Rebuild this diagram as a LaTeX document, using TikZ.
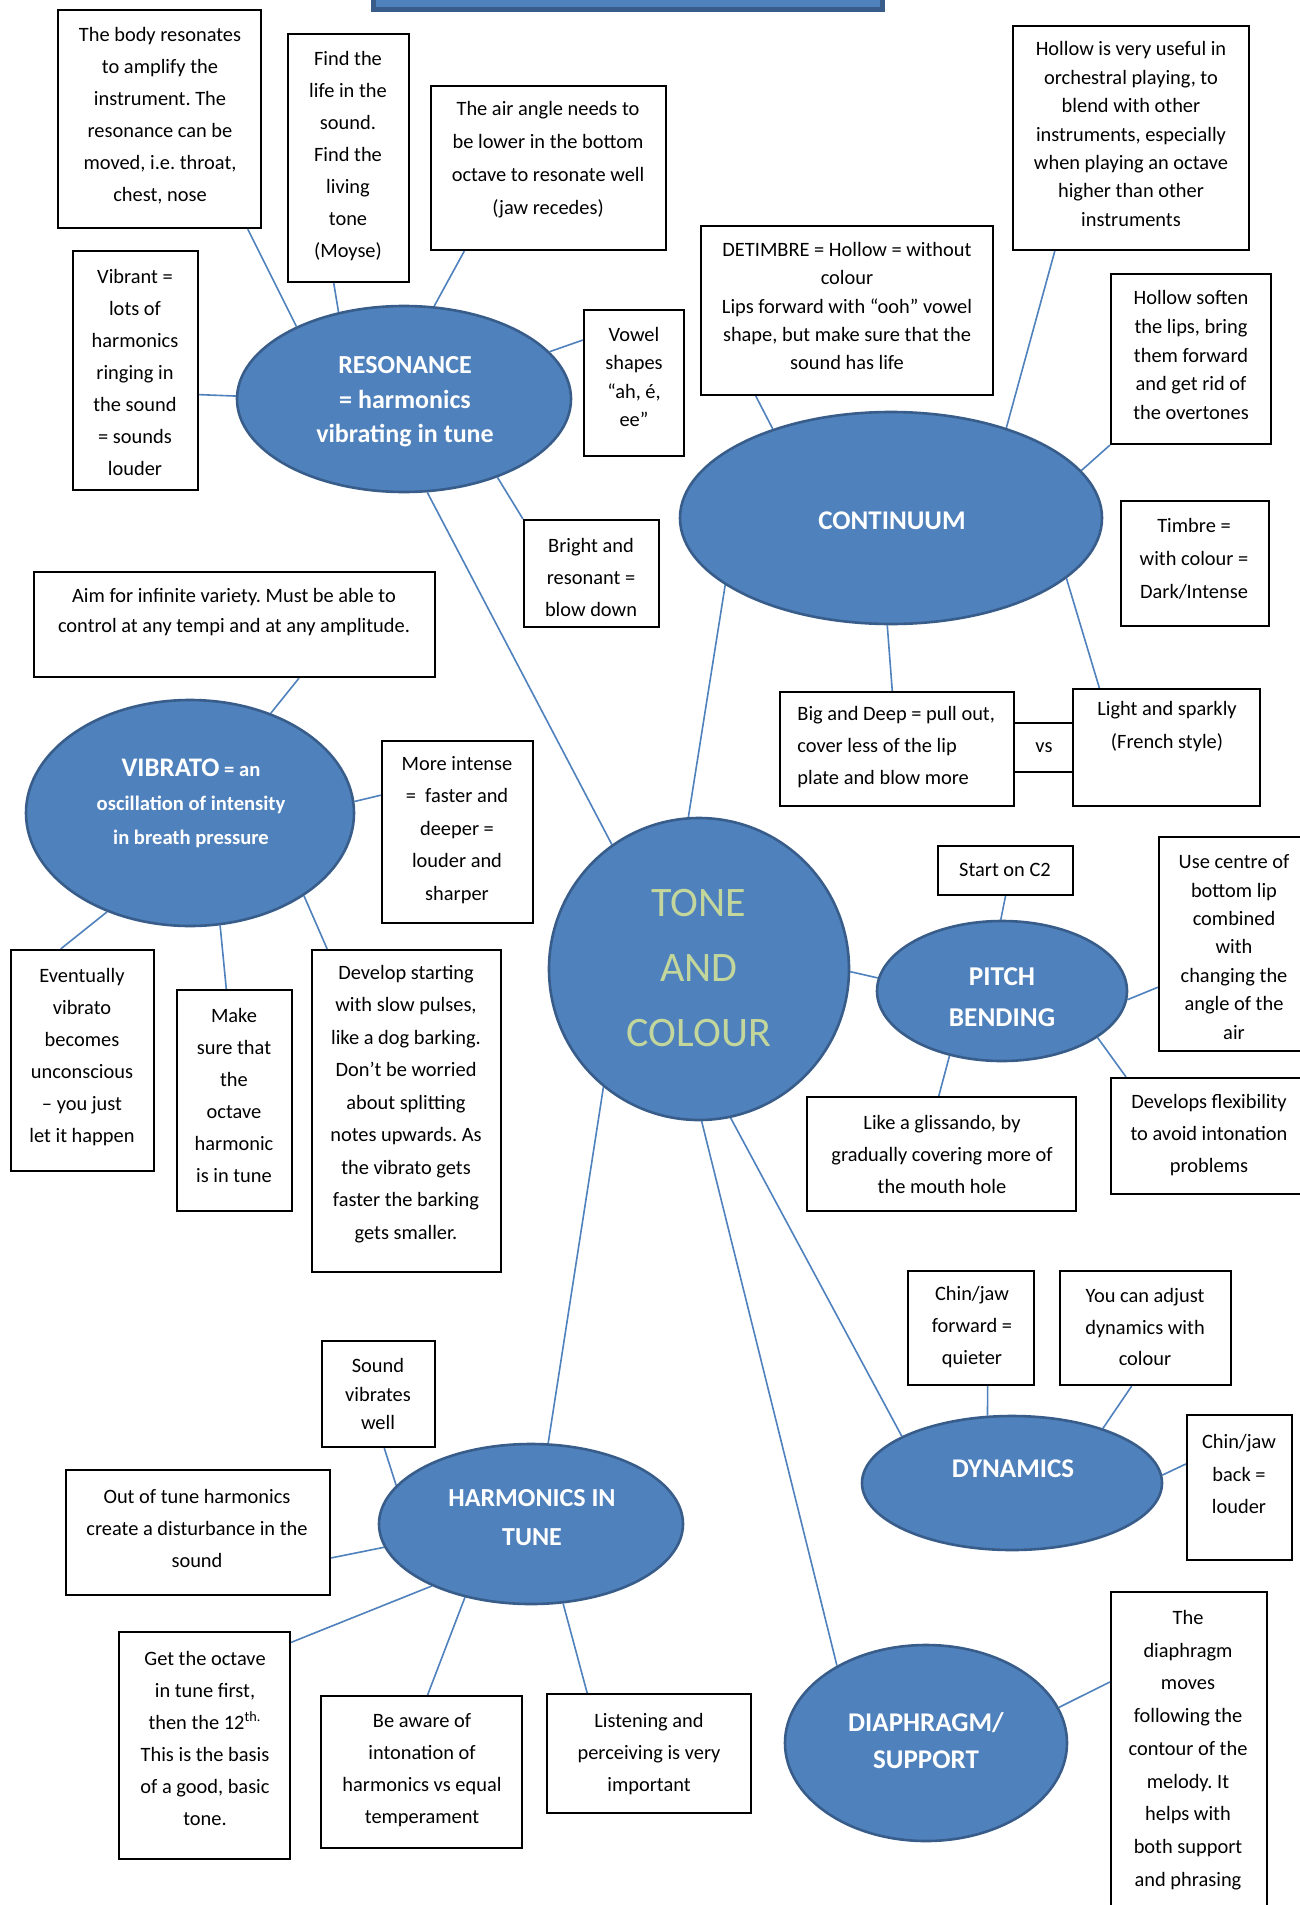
\documentclass[tikz,border=0pt]{standalone}
\usepackage{fontspec}
\setmainfont{Carlito}
\usetikzlibrary{fit,calc,shapes.geometric}
\definecolor{nodeblue}{HTML}{4F81BD}
\definecolor{nodeedge}{HTML}{385D8A}
\definecolor{linkblue}{HTML}{4F81BD}
\definecolor{tonegreen}{HTML}{C3D69B}
\pgfdeclarelayer{bg}
\pgfsetlayers{bg,main}
\frenchspacing

\begin{document}
\begin{tikzpicture}[x=0.5pt,y=-0.5pt,
  box/.style={draw=black, line width=1.1pt, fill=white, inner sep=0pt},
  txt/.style={align=center, inner sep=0pt, text=black, font=\fontsize{10.2}{16}\selectfont},
  tight/.style={font=\fontsize{10.2}{14.2}\selectfont},
  bubble/.style={ellipse, fill=nodeblue, draw=nodeedge, line width=1.3pt, inner sep=0pt},
  htxt/.style={align=center, inner sep=0pt, text=white, font=\bfseries\fontsize{13.5}{17.3}\selectfont},
  link/.style={draw=linkblue, line width=0.8pt},
  titlebar/.style={fill=nodeblue, draw=nodeedge, line width=2.5pt, inner sep=0pt},
]
\useasboundingbox (0,0) rectangle (1300,1905);

% title bar running off the top edge
\node[titlebar, fit={(373,-30) (882,10)}] (title) {};

% ---------- central topic ----------
\node[bubble, minimum width=150pt, minimum height=151pt] (tone) at (699,969) {};
\node[align=center, inner sep=0pt, text=tonegreen, font=\fontsize{21}{32.5}\selectfont] (tonet) at (699,968) {TONE\\AND\\COLOUR};

% ---------- sub topics ----------
\node[bubble, minimum width=167pt, minimum height=93pt] (res) at (404,399) {};
\node[htxt, font=\bfseries\fontsize{13}{17.3}\selectfont] (rest) at (405,402) {RESONANCE\\= harmonics\\vibrating in tune};

\node[bubble, minimum width=211pt, minimum height=106pt] (cont) at (891,518) {};
\node[htxt] (contt) at (892,521) {CONTINUUM};

\node[bubble, minimum width=164pt, minimum height=113pt] (vib) at (190,813) {};
\node[htxt, font=\bfseries\fontsize{10.3}{17}\selectfont] (vibt) at (191,803)
  {{\fontsize{13.4}{17}\selectfont VIBRATO} = an\\oscillation of intensity\\in breath pressure};

\node[bubble, minimum width=125pt, minimum height=70pt] (pitch) at (1002,991) {};
\node[htxt, font=\bfseries\fontsize{13.6}{20.5}\selectfont] (pitcht) at (1002,997) {PITCH\\BENDING};

\node[bubble, minimum width=150pt, minimum height=67pt] (dyn) at (1012,1483) {};
\node[htxt] (dynt) at (1013,1469) {DYNAMICS};

\node[bubble, minimum width=141pt, minimum height=98pt] (dia) at (926,1743) {};
\node[htxt, font=\bfseries\fontsize{13.5}{18.5}\selectfont] (diat) at (926,1741) {DIAPHRAGM/\\SUPPORT};

\node[bubble, minimum width=152pt, minimum height=80pt] (harm) at (531,1524) {};
\node[htxt, font=\bfseries\fontsize{13}{19.5}\selectfont] (harmt) at (532,1518) {HARMONICS IN\\TUNE};

% ---------- resonance notes ----------
\node[box, fit={(58,10) (261,228)}] (b1) {};
\node[txt] (b1t) at (160,116) {The body resonates\\to amplify the\\instrument. The\\resonance can be\\moved, i.e. throat,\\chest, nose};
\node[box, fit={(288,34) (409,282)}] (b2) {};
\node[txt] (b2t) at (348,156) {Find the\\life in the\\sound.\\Find the\\living\\tone\\(Moyse)};
\node[box, fit={(431,86) (666,250)}] (b3) {};
\node[txt, font=\fontsize{10.2}{16.5}\selectfont] (b3t) at (548,160) {The air angle needs to\\be lower in the bottom\\octave to resonate well\\(jaw recedes)};
\node[box, fit={(73,251) (198,490)}] (b4) {};
\node[txt] (b4t) at (135,372) {Vibrant =\\lots of\\harmonics\\ringing in\\the sound\\= sounds\\louder};
\node[box, fit={(584,310) (684,456)}] (b5) {};
\node[txt, tight] (b5t) at (634,377) {Vowel\\shapes\\“ah, é,\\ee”};
\node[box, fit={(524,520) (659,627)}] (b6) {};
\node[txt] (b6t) at (591,577) {Bright and\\resonant =\\blow down};

% ---------- continuum notes ----------
\node[box, fit={(1013,26) (1249,250)}] (c1) {};
\node[txt, tight] (c1t) at (1131,134) {Hollow is very useful in\\orchestral playing, to\\blend with other\\instruments, especially\\when playing an octave\\higher than other\\instruments};
\node[box, fit={(701,226) (993,395)}] (c2) {};
\node[txt, tight] (c2t) at (847,306) {DETIMBRE = Hollow = without\\colour\\Lips forward with “ooh” vowel\\shape, but make sure that the\\sound has life};
\node[box, fit={(1111,274) (1271,444)}] (c3) {};
\node[txt, font=\fontsize{10.2}{14.4}\selectfont] (c3t) at (1191,355) {Hollow soften\\the lips, bring\\them forward\\and get rid of\\the overtones};
\node[box, fit={(1121,501) (1269,626)}] (c4) {};
\node[txt, font=\fontsize{10.2}{16.5}\selectfont] (c4t) at (1194,559) {Timbre =\\with colour =\\Dark/Intense};
\node[box, fit={(780,692) (1014,806)}] (c5) {};
\node[txt, align=left, anchor=west] (c5t) at (797,747) {Big and Deep = pull out,\\cover less of the lip\\plate and blow more};
\node[box, fit={(1014,723) (1073,772)}] (c6) {};
\node[txt] (c6t) at (1044,748) {vs};
\node[box, fit={(1073,689) (1260,806)}] (c7) {};
\node[txt, font=\fontsize{10.2}{16.5}\selectfont] (c7t) at (1167,727) {Light and sparkly\\(French style)};

% ---------- vibrato notes ----------
\node[box, fit={(34,572) (435,677)}] (v1) {};
\node[txt, font=\fontsize{10.2}{15}\selectfont] (v1t) at (234,612) {Aim for infinite variety. Must be able to\\control at any tempi and at any amplitude.};
\node[box, fit={(382,741) (533,923)}] (v2) {};
\node[txt, font=\fontsize{10.2}{16.25}\selectfont] (v2t) at (457,830) {More intense\\= \ faster and\\deeper =\\louder and\\sharper};
\node[box, fit={(11,950) (154,1171)}] (v3) {};
\node[txt] (v3t) at (82,1057) {Eventually\\vibrato\\becomes\\unconscious\\– you just\\let it happen};
\node[box, fit={(177,990) (292,1211)}] (v4) {};
\node[txt] (v4t) at (234,1095) {Make\\sure that\\the\\octave\\harmonic\\is in tune};
\node[box, fit={(312,950) (501,1272)}] (v5) {};
\node[txt, font=\fontsize{10.2}{16.25}\selectfont] (v5t) at (406,1104) {Develop starting\\with slow pulses,\\like a dog barking.\\Don’t be worried\\about splitting\\notes upwards. As\\the vibrato gets\\faster the barking\\gets smaller.};

% ---------- pitch bending notes ----------
\node[box, fit={(938,846) (1073,895)}] (p1) {};
\node[txt] (p1t) at (1005,870) {Start on C2};
\node[box, fit={(1159,837) (1310,1051)}] (p2) {};
\node[txt, tight] (p2t) at (1234,947) {Use centre of\\bottom lip\\combined\\with\\changing the\\angle of the\\air};
\node[box, fit={(807,1097) (1076,1211)}] (p3) {};
\node[txt] (p3t) at (942,1154) {Like a glissando, by\\gradually covering more of\\the mouth hole};
\node[box, fit={(1111,1078) (1310,1194)}] (p4) {};
\node[txt, font=\fontsize{10.2}{15.8}\selectfont] (p4t) at (1209,1135) {Develops flexibility\\to avoid intonation\\problems};

% ---------- dynamics notes ----------
\node[box, fit={(908,1271) (1034,1385)}] (d1) {};
\node[txt, font=\fontsize{10.2}{15.8}\selectfont] (d1t) at (972,1327) {Chin/jaw\\forward =\\quieter};
\node[box, fit={(1060,1271) (1231,1385)}] (d2) {};
\node[txt, font=\fontsize{10.2}{15.8}\selectfont] (d2t) at (1145,1327) {You can adjust\\dynamics with\\colour};
\node[box, fit={(1187,1415) (1292,1560)}] (d3) {};
\node[txt, font=\fontsize{10.2}{16.4}\selectfont] (d3t) at (1239,1474) {Chin/jaw\\back =\\louder};

% ---------- diaphragm note ----------
\node[box, fit={(1111,1592) (1267,1915)}] (s1) {};
\node[txt, font=\fontsize{10.2}{16.35}\selectfont] (s1t) at (1188,1750) {The\\diaphragm\\moves\\following the\\contour of the\\melody. It\\helps with\\both support\\and phrasing};

% ---------- harmonics notes ----------
\node[box, fit={(322,1341) (435,1447)}] (h1) {};
\node[txt, tight] (h1t) at (378,1394) {Sound\\vibrates\\well};
\node[box, fit={(66,1470) (330,1595)}] (h2) {};
\node[txt] (h2t) at (197,1528) {Out of tune harmonics\\create a disturbance in the\\sound};
\node[box, fit={(119,1632) (290,1859)}] (h3) {};
\node[txt] (h3t) at (205,1738) {Get the octave\\in tune first,\\then the 12\textsuperscript{th.}\\This is the basis\\of a good, basic\\tone.};
\node[box, fit={(321,1696) (522,1848)}] (h4) {};
\node[txt] (h4t) at (422,1770) {Be aware of\\intonation of\\harmonics vs equal\\temperament};
\node[box, fit={(547,1694) (751,1813)}] (h5) {};
\node[txt] (h5t) at (649,1754) {Listening and\\perceiving is very\\important};

% ---------- connectors, behind everything ----------
\begin{pgfonlayer}{bg}
\fill[white] (0,0) rectangle (1300,1905);
% resonance
\draw[link] ($(b1.south west)!0.93!(b1.south east)$) -- (res.146);
\draw[link] ($(b2.south west)!0.38!(b2.south east)$) -- (res.127);
\draw[link] ($(b3.south west)!0.145!(b3.south east)$) -- (res.72);
\draw[link] ($(b4.north east)!0.6!(b4.south east)$) -- (res.179);
\draw[link] ($(b5.north west)!0.21!(b5.south west)$) -- (res.18);
\draw[link] (b6.north west) -- (res.-40);
\draw[link] (res.-76) -- (tone.125);
% continuum
\draw[link] ($(c2.south west)!0.19!(c2.south east)$) -- (cont.143);
\draw[link] ($(c1.south west)!0.18!(c1.south east)$) -- (cont.38);
\draw[link] (c3.south west) -- (cont.14);
\draw[link] ($(c7.north west)!0.145!(c7.north east)$) -- (cont.-19);
\draw[link] ($(c5.north west)!0.48!(c5.north east)$) -- (cont.-92);
\draw[link] (cont.-158) -- (tone.94);
% vibrato
\draw[link] ($(v1.south west)!0.66!(v1.south east)$) -- (vib.51);
\draw[link] ($(v2.north west)!0.3!(v2.south west)$) -- (vib.4);
\draw[link] ($(v3.north west)!0.35!(v3.north east)$) -- (vib.-130);
\draw[link] ($(v4.north west)!0.43!(v4.north east)$) -- (vib.-75);
\draw[link] ($(v5.north west)!0.085!(v5.north east)$) -- (vib.-36);
% pitch bending
\draw[link] (p1.south) -- (pitch.91);
\draw[link] ($(p2.north west)!0.7!(p2.south west)$) -- (pitch.-4);
\draw[link] ($(p3.north west)!0.49!(p3.north east)$) -- (pitch.-129);
\draw[link] ($(p4.north west)!0.08!(p4.north east)$) -- (pitch.-26);
\draw[link] (tone.-1) -- (pitch.174);
% dynamics
\draw[link] ($(d1.south west)!0.63!(d1.south east)$) -- (dyn.110);
\draw[link] ($(d2.south west)!0.42!(d2.south east)$) -- (dyn.31);
\draw[link] ($(d3.north west)!0.34!(d3.south west)$) -- (dyn.3);
\draw[link] (tone.-78) -- (dyn.157);
% diaphragm / support
\draw[link] ($(s1.north west)!0.28!(s1.south west)$) -- (dia.15);
\draw[link] (tone.-89) -- (dia.139);
% harmonics in tune
\draw[link] ($(h1.south west)!0.55!(h1.south east)$) -- (harm.164);
\draw[link] ($(h2.north east)!0.7!(h2.south east)$) -- (harm.-171);
\draw[link] ($(h3.north east)!0.05!(h3.south east)$) -- (harm.-148);
\draw[link] ($(h4.north west)!0.53!(h4.north east)$) -- (harm.-132);
\draw[link] ($(h5.north west)!0.2!(h5.north east)$) -- (harm.-68);
\draw[link] (tone.-129) -- (harm.78);
\end{pgfonlayer}
\end{tikzpicture}
\end{document}
